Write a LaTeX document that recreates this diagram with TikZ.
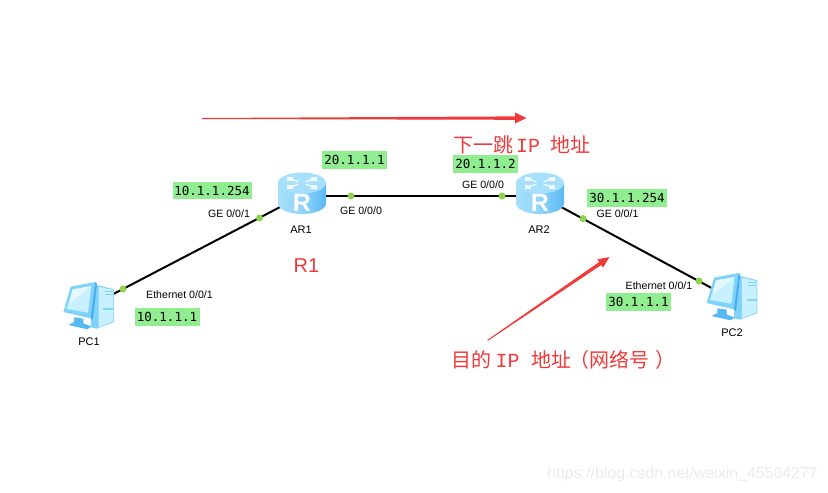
\documentclass[tikz,border=0pt]{standalone}
\usepackage{fontspec}
\setmainfont{Liberation Sans}
\newfontfamily\cjkfont{Noto Sans CJK SC}
\newfontfamily\ipfont{DejaVu Sans Mono}
\newfontfamily\latinmono{Liberation Mono}
\definecolor{ipgreen}{HTML}{90EE90}
\definecolor{portgreen}{HTML}{8CD24A}
\definecolor{redmark}{HTML}{F03A3A}
\definecolor{routerlight}{HTML}{A6E0FC}
\definecolor{routerdark}{HTML}{5AB8F3}
\definecolor{pcblue}{HTML}{7FD2FA}
\definecolor{pclight}{HTML}{C9F0FF}
\definecolor{pcmid}{HTML}{45AEF2}
\tikzset{
  link/.style={draw=black,line width=2pt},
  port/.style={circle,fill=portgreen,inner sep=0pt,minimum size=7pt},
  anchorbox/.style={inner sep=0pt,minimum size=6pt},
  iplabel/.style={fill=ipgreen,inner sep=0pt,minimum height=17.5pt,font=\ipfont\fontsize{12.5}{14}\selectfont,text=black},
  portlabel/.style={font=\fontsize{10.6}{12}\selectfont,text=black,inner sep=0pt},
  devlabel/.style={font=\fontsize{11}{13}\selectfont,text=black,inner sep=0pt},
  notetext/.style={text=redmark,inner sep=0pt,anchor=west,font=\fontsize{20}{22}\selectfont},
  redtip/.style={fill=redmark,draw=none},
}
\newcommand{\routericon}[1]{%
  \begin{scope}[shift={(#1)}]
    \shade[left color=routerlight,right color=routerdark,middle color=routerlight!70!routerdark]
      (-24,-11) -- (-24,9.5) arc[start angle=180,end angle=0,x radius=24,y radius=10.5] -- (24,-11) -- cycle;
    \fill[routerlight] (0,-11) ellipse[x radius=24,y radius=10.5];
    \foreach \a/\b in {-12/-15,12/-15,-12/-7,12/-7}{
      \draw[white,line width=1.4pt,opacity=.85] (\a*0.3,{-11+(\b+11)*0.3}) -- (\a,\b);
      \fill[white,opacity=.85] (\a,\b) ++(-3,-1.6) rectangle ++(6,3.2);
    }
    \node[text=white,inner sep=0pt,font=\bfseries\fontsize{25}{25}\selectfont] at (0,9) {R};
  \end{scope}}
\newcommand{\pcicon}[1]{%
  \begin{scope}[shift={(#1)},scale=1/3]
    \fill[pcblue] (126,50) -- (145,46) -- (192,58) -- (192,156) -- (140,176) -- (122,172) -- cycle;
    \fill[pclight] (146,50) -- (190,60) -- (190,153) -- (146,172) -- cycle;
    \fill[pcblue] (160,114) rectangle (190,119);
    \fill[pcblue] (165,62) rectangle (188,66);
    \fill[pcblue] (165,72) rectangle (188,76);
    \fill[pcmid!70!pcblue] (72,142) -- (100,146) -- (100,160) -- (124,170) -- (112,178) -- (55,165) -- (72,156) -- cycle;
    \fill[pcblue] (62,50) -- (136,36) -- (122,145) -- (40,126) -- cycle;
    \fill[pcmid] (136,36) -- (141,42) -- (128,150) -- (122,145) -- cycle;
    \fill[pclight] (68,58) -- (124,48) -- (114,128) -- (50,117) -- cycle;
    \fill[white,opacity=.55] (68,58) -- (124,48) -- (58,100) -- cycle;
  \end{scope}}
\begin{document}
\begin{tikzpicture}[x=1pt,y=-1pt]
\useasboundingbox (0,0) rectangle (828,493);
% device anchors
\node[anchorbox] (ar1) at (302,195.6) {};
\node[anchorbox] (ar2) at (540,195.6) {};
\node[anchorbox] (pc1) at (89,306.7) {};
\node[anchorbox] (pc2) at (732,299) {};
% links
\draw[link] (pc1.center) -- (ar1.center);
\draw[link] (ar1.center) -- (ar2.center);
\draw[link] (ar2.center) -- (pc2.center);
% device icons
\routericon{302,194}
\routericon{540,194}
\pcicon{50,270}
\pcicon{693.3,261}
% ports
\node[port] (p1) at (123,289) {};
\node[port] (p2) at (259.5,218) {};
\node[port] (p3) at (351,196) {};
\node[port] (p4) at (502,196) {};
\node[port] (p5) at (583,218.5) {};
\node[port] (p6) at (699,281) {};
% device names
\node[devlabel] (l1) at (89,342) {PC1};
\node[devlabel] (l2) at (301,230) {AR1};
\node[devlabel] (l3) at (539,230) {AR2};
\node[devlabel] (l4) at (732,333) {PC2};
% port names
\node[portlabel] (n1) at (179.5,295) {Ethernet 0/0/1};
\node[portlabel] (n2) at (229,214) {GE 0/0/1};
\node[portlabel] (n3) at (361,210.5) {GE 0/0/0};
\node[portlabel] (n4) at (483,185) {GE 0/0/0};
\node[portlabel] (n5) at (617.5,214) {GE 0/0/1};
\node[portlabel] (n6) at (659,286) {Ethernet 0/0/1};
% addresses
\node[iplabel,minimum width=65pt] (i1) at (167,317) {10.1.1.1};
\node[iplabel,minimum width=79pt] (i2) at (212,190.5) {10.1.1.254};
\node[iplabel,minimum width=65pt] (i3) at (354.5,160) {20.1.1.1};
\node[iplabel,minimum width=65pt] (i4) at (485.5,164) {20.1.1.2};
\node[iplabel,minimum width=80pt] (i5) at (627,198) {30.1.1.254};
\node[iplabel,minimum width=65pt] (i6) at (638.5,302) {30.1.1.1};
% red annotations
\coordinate (a1s) at (202,118.5);
\coordinate (a1e) at (526.5,118);
\fill[redtip] (202,118) -- (515,116.4) -- (515,112.5) -- (a1e) -- (515,123.5) -- (515,119.8) -- (202,119) -- cycle;
\coordinate (a2s) at (487.3,340);
\coordinate (a2e) at (609.5,257);
\fill[redtip] (a2s) -- (599.2,262) -- (597.4,259.4) -- (a2e) -- (603,267.6) -- (601.2,265) -- (487.8,340.8) -- cycle;
\node[notetext] (t1) at (453,145) {\cjkfont 下一跳\hspace{-1.5pt} \latinmono IP\hspace{-1.5pt} \cjkfont 地址};
\node[notetext] (t2) at (451,360) {\cjkfont 目的 \latinmono IP \cjkfont 地址\hspace{-2pt}（网络号\hspace{6pt}）};
\node[text=redmark,inner sep=0pt,font=\fontsize{20}{22}\selectfont] (t3) at (306.5,266) {R1};
% watermark
\node[text=black!8,inner sep=0pt,anchor=east,font=\fontsize{15.9}{18}\selectfont] (w) at (818,474) {https://blog.csdn.net/weixin\_45504277};
\end{tikzpicture}
\end{document}
